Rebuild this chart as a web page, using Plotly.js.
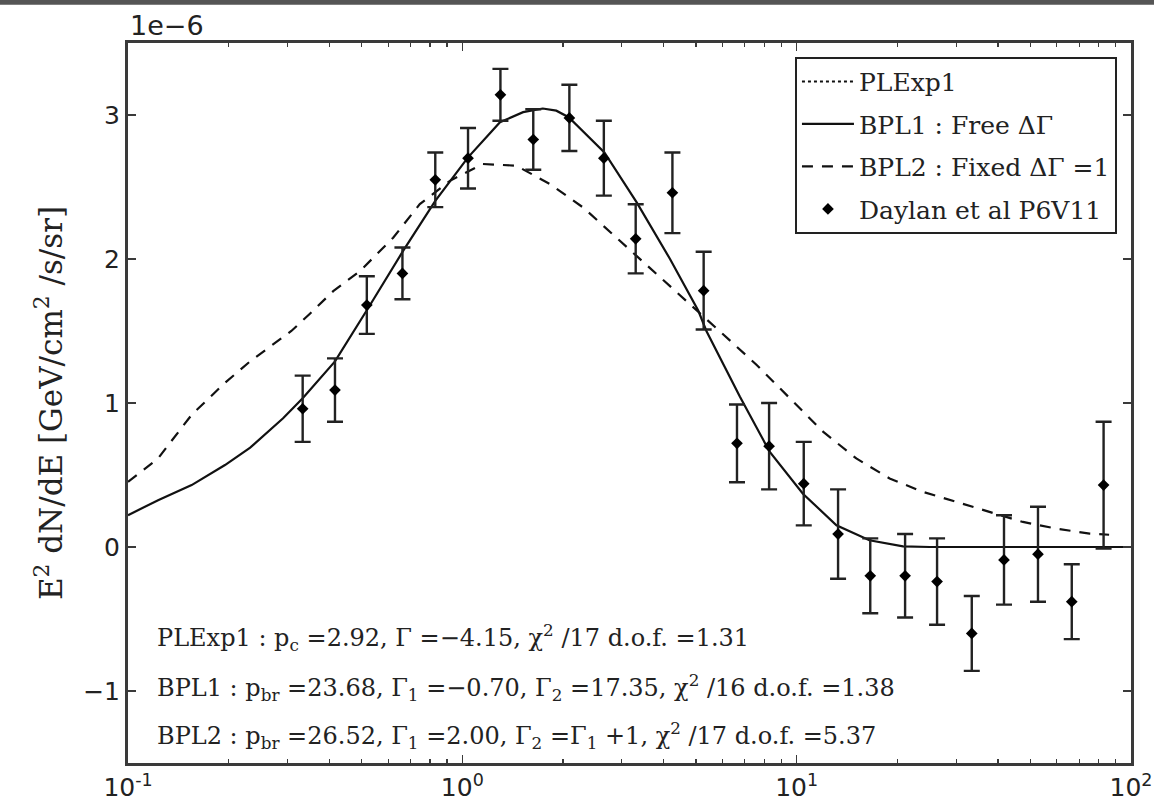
<!DOCTYPE html>
<html>
<head>
<meta charset="utf-8">
<script src="https://cdn.plot.ly/plotly-3.0.1.min.js"></script>
<style>
  html, body { margin: 0; padding: 0; background: #fff; }
  #chart { width: 1154px; height: 805px; }
</style>
</head>
<body>
<div id="chart"></div>
<script>
// Energy spectrum, values in units of 1e-6 GeV/cm^2/s/sr
const energyGeV = [0.333, 0.416, 0.518, 0.662, 0.83, 1.04, 1.30, 1.63, 2.09, 2.65,
                   3.30, 4.25, 5.27, 6.63, 8.27, 10.5, 13.3, 16.6, 21.1, 26.3,
                   33.4, 41.7, 52.7, 66.5, 82.8];
const fluxE6 = [0.96, 1.09, 1.68, 1.90, 2.55, 2.70, 3.14, 2.83, 2.98, 2.70,
                2.14, 2.46, 1.78, 0.72, 0.70, 0.44, 0.09, -0.20, -0.20, -0.24,
                -0.60, -0.09, -0.05, -0.38, 0.43];
const fluxErrE6 = [0.23, 0.22, 0.20, 0.18, 0.19, 0.21, 0.18, 0.21, 0.23, 0.26,
                   0.24, 0.28, 0.27, 0.27, 0.30, 0.29, 0.31, 0.26, 0.29, 0.30,
                   0.26, 0.31, 0.33, 0.26, 0.44];

// Broken power law, free spectral break
const bpl1E = [0.1, 0.123, 0.155, 0.195, 0.232, 0.291, 0.333, 0.416, 0.523, 0.665,
               0.83, 1.04, 1.296, 1.52, 1.74, 1.91, 2.08, 2.66, 3.33, 4.18,
               5.08, 5.37, 6.76, 8.30, 10.44, 13.15, 16.5, 20.8, 25, 100];
const bpl1Flux = [0.221, 0.325, 0.43, 0.569, 0.69, 0.894, 1.033, 1.289, 1.66, 2.056,
                  2.404, 2.706, 2.95, 3.02, 3.045, 3.03, 2.985, 2.74, 2.39, 2.00,
                  1.64, 1.50, 1.045, 0.662, 0.37, 0.151, 0.047, 0.005, 0, 0];

// Broken power law, fixed break of 1
const bpl2E = [0.1, 0.123, 0.155, 0.195, 0.232, 0.27, 0.308, 0.35, 0.411, 0.494,
               0.621, 0.746, 0.918, 1.15, 1.45, 1.83, 2.30, 2.89, 3.64, 4.57,
               5.89, 7.58, 9.53, 11.99, 15.08, 18.97, 23.86, 30.0, 37.8, 47.5,
               59.7, 75.2, 86];
const bpl2Flux = [0.453, 0.615, 0.918, 1.14, 1.29, 1.40, 1.50, 1.62, 1.777, 1.916,
                  2.148, 2.381, 2.543, 2.66, 2.648, 2.52, 2.357, 2.148, 1.939, 1.73,
                  1.498, 1.266, 1.033, 0.801, 0.615, 0.476, 0.383, 0.314, 0.244, 0.174,
                  0.128, 0.093, 0.085];

const xTickVals = [0.1, 1, 10, 100];
const xTickText = ['10<sup>-1</sup>', '10<sup>0</sup>', '10<sup>1</sup>', '10<sup>2</sup>'];
const yTickVals = [-1, 0, 1, 2, 3];
const yTickText = ['\u22121', '0', '1', '2', '3'];

const fitLines = [
  'PLExp1 : p<sub>c</sub> =2.92, \u0393 =\u22124.15, \u03c7<sup>2</sup> /17 d.o.f. =1.31',
  'BPL1 : p<sub>br</sub> =23.68, \u0393<sub>1</sub> =\u22120.70, \u0393<sub>2</sub> =17.35, \u03c7<sup>2</sup> /16 d.o.f. =1.38',
  'BPL2 : p<sub>br</sub> =26.52, \u0393<sub>1</sub> =2.00, \u0393<sub>2</sub> =\u0393<sub>1</sub> +1, \u03c7<sup>2</sup> /17 d.o.f. =5.37'
];

const SERIF = '"DejaVu Serif", "Liberation Serif", serif';
const SANS = '"DejaVu Sans", sans-serif';
const INK = '#111';
const FRAME = '#3a3a3a';

const traces = [
  {
    name: 'PLExp1', x: [null], y: [null], mode: 'lines',
    line: { color: INK, width: 2, dash: 'dot' }, legendgroup: 'a'
  },
  {
    name: 'BPL1 : Free \u0394\u0393', x: bpl1E, y: bpl1Flux, mode: 'lines',
    line: { color: INK, width: 2.2 }, legendgroup: 'b'
  },
  {
    name: 'BPL2 : Fixed \u0394\u0393 =1', x: bpl2E, y: bpl2Flux, mode: 'lines',
    line: { color: INK, width: 2.2, dash: '11px,9px' }, legendgroup: 'c'
  },
  {
    name: 'Daylan et al P6V11', x: energyGeV, y: fluxE6, mode: 'markers',
    marker: { symbol: 'diamond', size: 9, color: '#000' },
    error_y: { type: 'data', array: fluxErrE6, visible: true, color: '#222', thickness: 2.4, width: 8 },
    legendgroup: 'd'
  }
];

const fitY = [0.174, 0.105, 0.038];
const annotations = fitLines.map((t, i) => ({
  xref: 'paper', yref: 'paper', x: 0.027, y: fitY[i],
  xanchor: 'left', yanchor: 'middle', showarrow: false, text: t,
  font: { family: SERIF, size: 24, color: '#222' }
}));
annotations.push({
  xref: 'paper', yref: 'paper', x: 0, y: 1, xanchor: 'left', yanchor: 'bottom',
  yshift: 0, showarrow: false, text: '1e\u22126',
  font: { family: SANS, size: 27, color: '#222' }
});

const axisCommon = {
  showline: true, linecolor: FRAME, linewidth: 3, mirror: 'ticks',
  ticks: 'inside', ticklen: 8, tickwidth: 1.5, tickcolor: FRAME,
  showgrid: false, zeroline: false,
  tickfont: { family: SANS, size: 25, color: '#222' }
};

const layout = {
  width: 1154, height: 805,
  margin: { l: 128, r: 23, t: 43, b: 42 },
  paper_bgcolor: '#fff', plot_bgcolor: '#fff',
  showlegend: true,
  xaxis: Object.assign({}, axisCommon, {
    type: 'log', range: [-1, 2],
    tickvals: xTickVals, ticktext: xTickText,
    minor: { ticks: 'inside', ticklen: 4, tickcolor: FRAME, tickwidth: 1.2, dtick: 'D1', showgrid: false }
  }),
  yaxis: Object.assign({}, axisCommon, {
    range: [-1.5, 3.5],
    tickvals: yTickVals, ticktext: yTickText,
    title: { text: 'E<sup>2</sup> dN/dE [GeV/cm<sup>2</sup> /s/sr]', font: { family: SERIF, size: 31, color: '#222' }, standoff: 12 }
  }),
  legend: {
    x: 0.986, y: 0.981, xanchor: 'right', yanchor: 'top',
    bgcolor: '#fff', bordercolor: '#222', borderwidth: 2,
    font: { family: SERIF, size: 25, color: '#222' },
    tracegroupgap: 7, itemwidth: 52
  },
  annotations: annotations,
  shapes: [
    { type: 'rect', xref: 'paper', yref: 'paper', x0: -0.2, x1: 1.1, y0: 1.053, y1: 1.07,
      fillcolor: '#555', line: { width: 0 } }
  ]
};

Plotly.newPlot('chart', traces, layout, { displayModeBar: false, staticPlot: true });
</script>
</body>
</html>
